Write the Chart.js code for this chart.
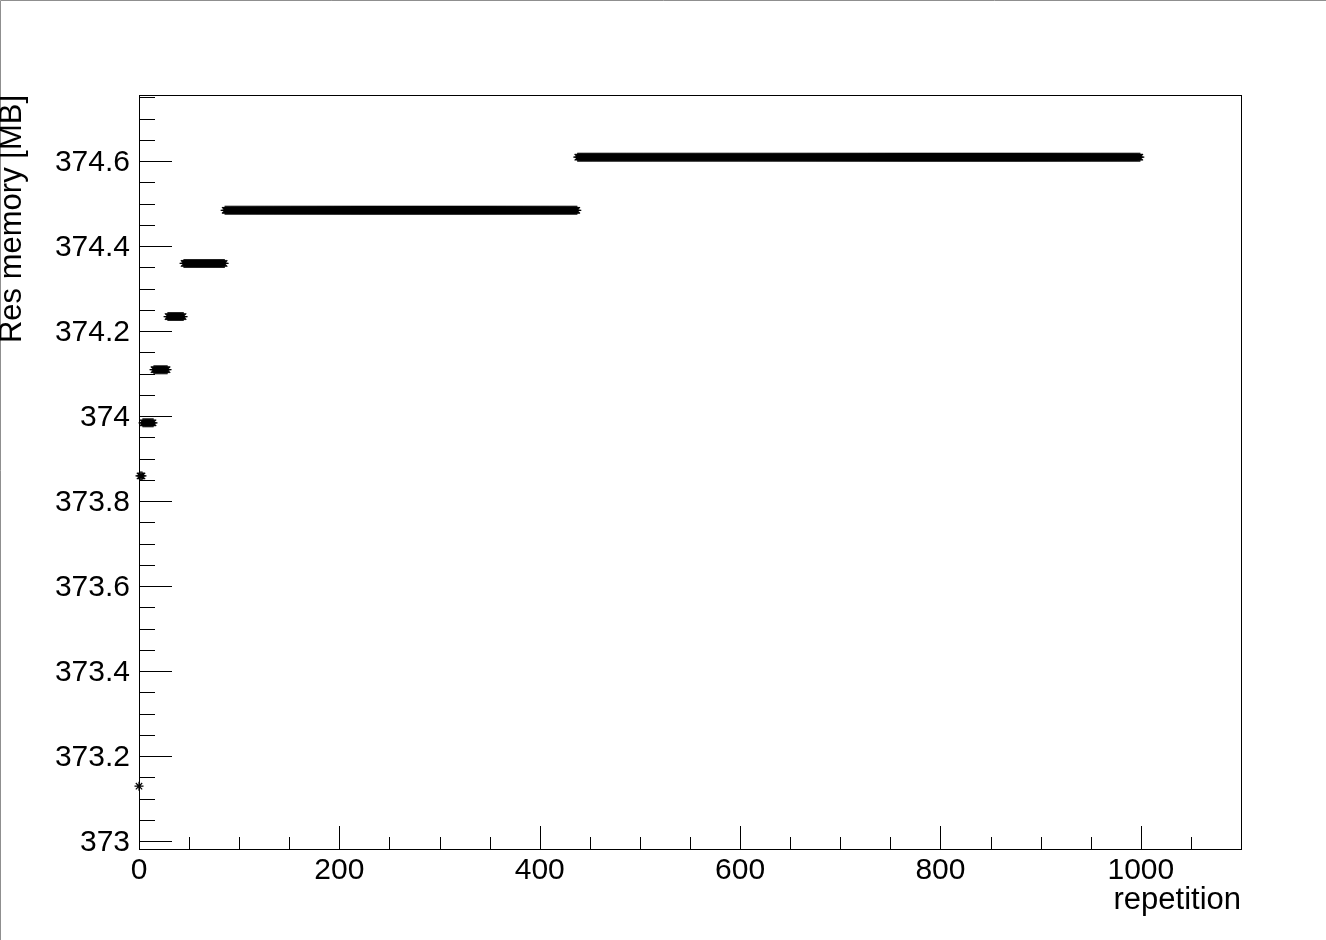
<!DOCTYPE html>
<html>
<head>
<meta charset="utf-8">
<title>Res memory vs repetition</title>
<script src="https://cdn.jsdelivr.net/npm/chart.js@4.4.0/dist/chart.umd.min.js"></script>
<style>
    html, body { margin: 0; padding: 0; background: #fff; }
    canvas { display: block; }
</style>
</head>
<body>
<canvas id="memChart" width="1326" height="940"></canvas>
<script>
// memory steps: first repetition of each step and its value [MB]
const stepStart = [0, 1, 4, 15, 29, 45, 86, 438];
const stepValue = [373.129, 373.859, 373.984, 374.109, 374.234, 374.359, 374.484, 374.609];
const lastRep = 999;

// axis ticks
const xMajorTicks = [0, 200, 400, 600, 800, 1000];
const yMajorTicks = [373, 373.2, 373.4, 373.6, 373.8, 374, 374.2, 374.4, 374.6];
const xMinorStep = 50;
const yMinorStep = 0.05;

// one point per repetition, value taken from the step it belongs to
const points = [];
for (let rep = 0; rep <= lastRep; rep++) {
    let k = 0;
    while (k + 1 < stepStart.length && rep >= stepStart[k + 1]) k++;
    points.push({ x: rep, y: stepValue[k] });
}

const FONT = 'Liberation Sans, Arial, Helvetica, sans-serif';

// ROOT-like frame: white pad, grey pad edge, black box, ticks pointing inwards
const rootFrame = {
    id: 'rootFrame',
    beforeDraw(chart) {
        const ctx = chart.ctx;
        ctx.save();
        ctx.fillStyle = '#fff';
        ctx.fillRect(0, 0, chart.width, chart.height);
        ctx.strokeStyle = '#8f8f8f';
        ctx.lineWidth = 1;
        ctx.beginPath();
        ctx.moveTo(0.5, chart.height);
        ctx.lineTo(0.5, 0.5);
        ctx.lineTo(chart.width, 0.5);
        ctx.stroke();
        ctx.restore();
    },
    afterDraw(chart) {
        const ctx = chart.ctx;
        const a = chart.chartArea;
        const xs = chart.scales.x, ys = chart.scales.y;
        ctx.save();
        ctx.strokeStyle = '#000';
        ctx.lineWidth = 1;
        ctx.strokeRect(a.left + 0.5, a.top + 0.5, a.right - a.left, a.bottom - a.top);

        ctx.beginPath();
        // x ticks
        for (let v = xs.min; v <= xs.max + 1e-9; v += xMinorStep) {
            const px = Math.round(xs.getPixelForValue(v)) + 0.5;
            const major = xMajorTicks.some(t => Math.abs(t - v) < 1e-6);
            const len = major ? 23 : 12;
            ctx.moveTo(px, a.bottom);
            ctx.lineTo(px, a.bottom - len);
        }
        // y ticks
        const y0 = Math.ceil((ys.min - 1e-9) / yMinorStep) * yMinorStep;
        for (let v = y0; v <= ys.max + 1e-9; v += yMinorStep) {
            const py = Math.round(ys.getPixelForValue(v)) + 0.5;
            const major = yMajorTicks.some(t => Math.abs(t - v) < 1e-6);
            const len = major ? 33 : 16;
            ctx.moveTo(a.left, py);
            ctx.lineTo(a.left + len, py);
        }
        ctx.stroke();
        ctx.restore();
    }
};

new Chart(document.getElementById('memChart').getContext('2d'), {
    type: 'scatter',
    data: {
        datasets: [{
            label: 'Res memory',
            data: points,
            showLine: false,
            clip: false,
            pointStyle: 'star',
            pointRadius: 4.5,
            pointBorderWidth: 1.2,
            pointBorderColor: '#000',
            pointBackgroundColor: '#000'
        }]
    },
    options: {
        responsive: false,
        animation: false,
        events: [],
        layout: { padding: { top: 95, right: 85, left: 0, bottom: 0 } },
        plugins: {
            legend: { display: false },
            tooltip: { enabled: false }
        },
        scales: {
            x: {
                type: 'linear',
                min: 0,
                max: 1100,
                afterFit(scale) { scale.height = 91; },
                afterBuildTicks(scale) { scale.ticks = xMajorTicks.map(v => ({ value: v })); },
                grid: { display: false, drawTicks: false },
                border: { display: false },
                ticks: {
                    padding: 4,
                    color: '#000',
                    font: { family: FONT, size: 30 },
                    maxRotation: 0,
                    callback: v => String(v)
                },
                title: {
                    display: true,
                    text: 'repetition',
                    align: 'end',
                    color: '#000',
                    font: { family: FONT, size: 31, lineHeight: 1.2 },
                    padding: { top: 0, bottom: 21 }
                }
            },
            y: {
                type: 'linear',
                min: 372.9812,
                max: 374.7553,
                afterFit(scale) { scale.width = 139; },
                afterBuildTicks(scale) { scale.ticks = yMajorTicks.map(v => ({ value: v })); },
                grid: { display: false, drawTicks: false },
                border: { display: false },
                ticks: {
                    padding: 9,
                    labelOffset: 2,
                    color: '#000',
                    font: { family: FONT, size: 30 },
                    callback: v => String(+v.toFixed(1))
                },
                title: {
                    display: true,
                    text: 'Res memory [MB]',
                    align: 'end',
                    color: '#000',
                    font: { family: FONT, size: 31, lineHeight: 0.82 },
                    padding: { top: 0, bottom: 0 }
                }
            }
        }
    },
    plugins: [rootFrame]
});
</script>
</body>
</html>
